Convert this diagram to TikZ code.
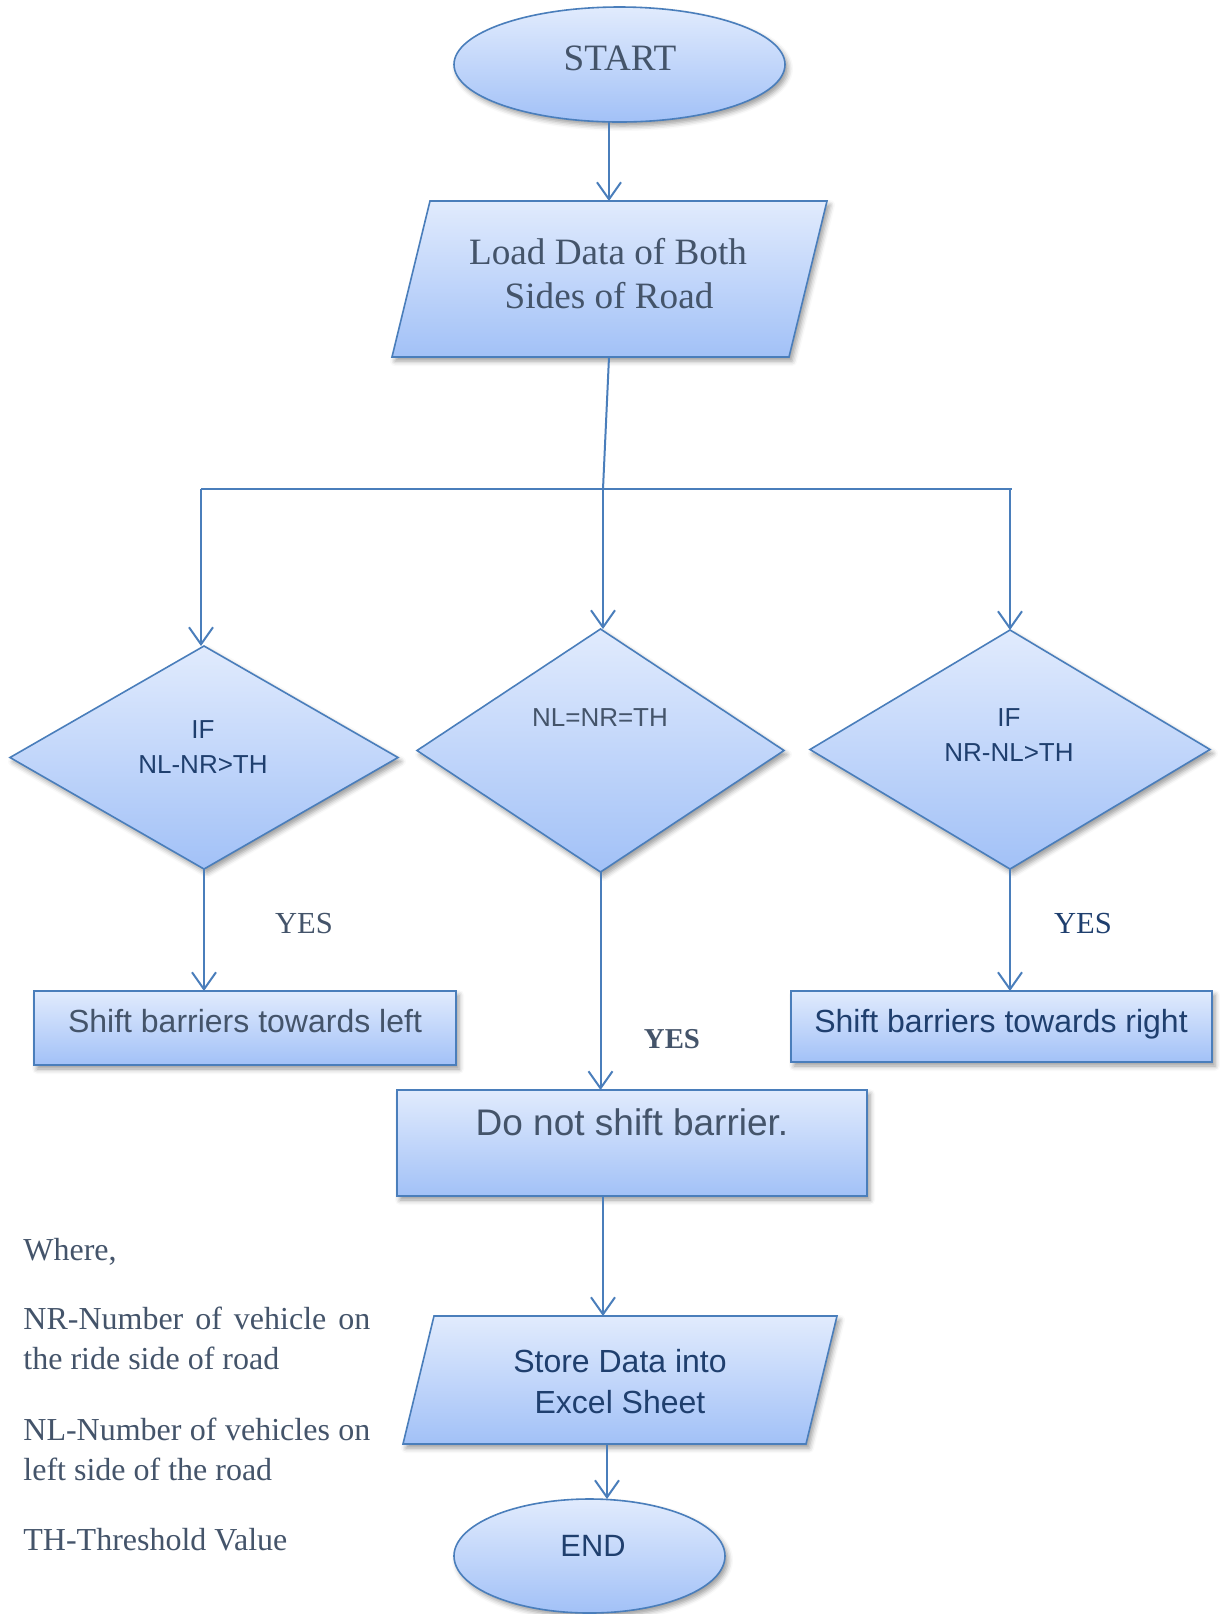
\documentclass[tikz,border=0pt]{standalone}
\usepackage{fontspec}
\setmainfont{Liberation Serif}
\newfontfamily\arialfont{Liberation Sans}
\usetikzlibrary{shapes.geometric,arrows.meta,shadows.blur}

\definecolor{edge}{HTML}{4A7EBB}
\definecolor{filltop}{HTML}{E1EBFD}
\definecolor{fillbot}{HTML}{A2C1F7}
\definecolor{slate}{HTML}{44546A}
\definecolor{navy}{HTML}{1F3F6E}

\begin{document}
\begin{tikzpicture}[x=0.5pt,y=-0.5pt,
  shapebox/.style={draw=edge, line width=0.8pt, top color=filltop, bottom color=fillbot,
    blur shadow={shadow xshift=1.5pt, shadow yshift=-2pt, shadow blur radius=2.5pt, shadow opacity=40}},
  oval/.style={shapebox, ellipse, inner sep=0pt, outer sep=0pt},
  rhomb/.style={shapebox, diamond, inner sep=0pt, outer sep=0pt},
  panel/.style={shapebox, rectangle, inner sep=0pt, outer sep=0pt},
  frame/.style={rectangle, inner sep=0pt, outer sep=0pt},
  link/.style={draw=edge, line width=1pt, -{Straight Barb[length=8.5pt,width=12pt,line width=1pt]}},
  wire/.style={draw=edge, line width=1pt},
  txt/.style={inner sep=0pt, anchor=base},
  serifbig/.style={txt, text=slate, font=\fontsize{18.6pt}{22pt}\selectfont},
  cond/.style={txt, font=\arialfont\fontsize{13pt}{16pt}\selectfont},
  boxtext/.style={txt, font=\arialfont\fontsize{16pt}{19pt}\selectfont},
  yes/.style={txt, font=\fontsize{15.3pt}{18pt}\selectfont},
  note/.style={inner sep=0pt, anchor=base west, text=slate, font=\fontsize{16pt}{19pt}\selectfont}
]
\useasboundingbox (0,0) rectangle (1220,1614);

% shapes
\node[oval, minimum width=165.5pt, minimum height=57.5pt] (start) at (619.5,64.5) {};
\node[frame, minimum width=217.5pt, minimum height=78pt] (load) at (609.5,279) {};
\path[shapebox] ([xshift=19pt]load.north west) -- (load.north east)
  -- ([xshift=-19pt]load.south east) -- (load.south west) -- cycle;
\node[rhomb, minimum width=194pt, minimum height=111.5pt] (ifl) at (204,757.5) {};
\node[rhomb, minimum width=183.5pt, minimum height=121.5pt] (eq) at (600.5,750.5) {};
\node[rhomb, minimum width=200pt, minimum height=119.5pt] (ifr) at (1010,749.5) {};
\node[panel, minimum width=211pt, minimum height=37pt] (left) at (245,1028) {};
\node[panel, minimum width=210.5pt, minimum height=35.5pt] (right) at (1001.5,1026.5) {};
\node[panel, minimum width=235pt, minimum height=53pt] (keep) at (632,1143) {};
\node[frame, minimum width=217pt, minimum height=64pt] (store) at (620,1380) {};
\path[shapebox] ([xshift=15.5pt]store.north west) -- (store.north east)
  -- ([xshift=-15.5pt]store.south east) -- (store.south west) -- cycle;
\node[oval, minimum width=135.5pt, minimum height=57pt] (end) at (589.5,1556) {};

% texts inside the shapes
\node[serifbig] (startT) at (620,70) {START};
\node[serifbig] (loadT1) at (608,264) {Load Data of Both};
\node[serifbig] (loadT2) at (609,308) {Sides of Road};
\node[cond, text=navy] (iflT1) at (203,738) {IF};
\node[cond, text=navy] (iflT2) at (203,773) {NL-NR>TH};
\node[cond, text=slate] (eqT) at (600,726) {NL=NR=TH};
\node[cond, text=navy] (ifrT1) at (1009,726) {IF};
\node[cond, text=navy] (ifrT2) at (1009,761) {NR-NL>TH};
\node[boxtext, text=slate] (leftT) at (245,1032) {Shift barriers towards left};
\node[boxtext, text=navy] (rightT) at (1001,1032) {Shift barriers towards right};
\node[txt, text=slate, font=\arialfont\fontsize{18.5pt}{22pt}\selectfont] (keepT) at (632,1135) {Do not shift barrier.};
\node[boxtext, text=navy] (storeT1) at (620,1372) {Store Data into};
\node[boxtext, text=navy] (storeT2) at (620,1413) {Excel Sheet};
\node[txt, text=navy, font=\arialfont\fontsize{15.4pt}{18pt}\selectfont] (endT) at (593,1556) {END};

% branch labels
\node[yes, text=slate] (yesL) at (304,933) {YES};
\node[yes, text=navy] (yesR) at (1083,933) {YES};
\node[txt, text=slate, font=\bfseries\fontsize{14.4pt}{17pt}\selectfont] (yesM) at (672,1048) {YES};

% legend
\node[note] (w0) at (23,1260) {Where,};
\node[note] (w1) at (23,1329) {\makebox[173.5pt][s]{NR-Number of vehicle on}};
\node[note] (w2) at (23,1369) {the ride side of road};
\node[note] (w3) at (23,1440) {\makebox[173.5pt][s]{NL-Number of vehicles on}};
\node[note] (w4) at (23,1480) {left side of the road};
\node[note] (w5) at (23,1550) {TH-Threshold Value};

% connector columns and junction
\coordinate (colA) at (609,0);
\coordinate (colM) at (603,0);
\coordinate (colE) at (607,0);
\coordinate (j) at (603,489);
\coordinate (jl) at (201,489);
\coordinate (jr) at (1012,489);

% connectors
\draw[link] (start.south -| colA) -- (load.north -| colA);
\draw[wire] (load.south -| colA) -- (j);
\draw[wire] (jl) -- (jr);
\draw[link] (jl) -- (jl |- ifl.north);
\draw[link] (j) -- (j |- eq.north);
\draw[link] (ifr.north |- jr) -- (ifr.north);
\draw[link] (ifl.south) -- (ifl.south |- left.north);
\draw[link] (eq.south) -- (eq.south |- keep.north);
\draw[link] (ifr.south) -- (ifr.south |- right.north);
\draw[link] (keep.south -| colM) -- (store.north -| colM);
\draw[link] (store.south -| colE) -- (end.north -| colE);
\end{tikzpicture}
\end{document}
